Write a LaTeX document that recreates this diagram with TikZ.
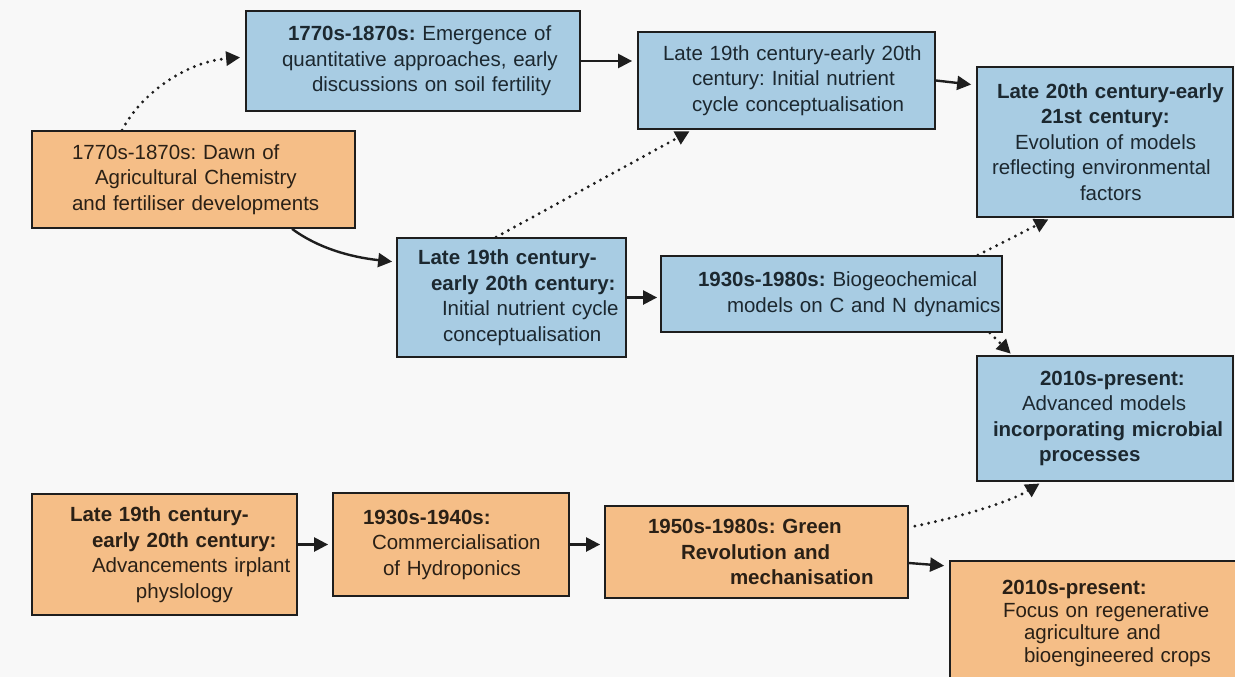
\documentclass[tikz,border=0pt]{standalone}
\usepackage{fontspec}
\setmainfont{Liberation Sans}
\usetikzlibrary{arrows.meta,calc}

\definecolor{bluefill}{HTML}{A8CCE3}
\definecolor{orangefill}{HTML}{F5BE87}
\definecolor{edgec}{HTML}{1E1E1E}
\definecolor{txtblue}{HTML}{1C2830}
\definecolor{txtorange}{HTML}{2A2016}
\definecolor{bgc}{HTML}{F8F8F8}

\begin{document}
\frenchspacing
\begin{tikzpicture}[x=1pt,y=1pt,
  box/.style={draw=edgec, line width=1.8pt, inner xsep=0pt, inner ysep=0pt,
    align=left, font=\fontsize{20.5}{25.5}\selectfont},
  bluebox/.style={box, fill=bluefill, text=txtblue},
  orangebox/.style={box, fill=orangefill, text=txtorange},
  link/.style={draw=edgec, line width=2.4pt, -{Triangle[length=14pt,width=14pt]}},
  dotlink/.style={link, line width=3.2pt, line cap=round, dash pattern=on 0pt off 7pt}]

\useasboundingbox (0,0) rectangle (1235,-677);
\clip (0,0) rectangle (1235,-677);
\fill[bgc] (0,0) rectangle (1235,-677);

% ---- blue boxes: modelling strand ----
\node[bluebox, minimum width=334pt, minimum height=100pt, text width=334pt] (b1) at (413,-61)
  {\hspace*{42pt}\textbf{1770s-1870s:} Emergence of\\
   \hspace*{36pt}quantitative approaches, early\\
   \hspace*{66pt}discussions on soil fertility};

\node[bluebox, minimum width=297pt, minimum height=97pt, text width=297pt] (b2) at (786.5,-80.5)
  {\hspace*{25pt}Late 19th century-early 20th\\
   \hspace*{54pt}century: Initial nutrient\\
   \hspace*{54pt}cycle conceptualisation};

\node[bluebox, minimum width=256pt, minimum height=150pt, text width=256pt] (b3) at (1105,-142)
  {\hspace*{20pt}\textbf{Late 20th century-early}\\
   \hspace*{64pt}\textbf{21st century:}\\
   \hspace*{38pt}Evolution of models\\
   \hspace*{15pt}reflecting environmental\\
   \hspace*{103pt}factors};

\node[bluebox, minimum width=229pt, minimum height=119pt, text width=229pt] (b4) at (511.5,-297.5)
  {\hspace*{21pt}\textbf{Late 19th century-}\\
   \hspace*{34pt}\textbf{early 20th century:}\\
   \hspace*{45pt}Initial nutrient cycle\\
   \hspace*{46pt}conceptualisation};

\node[bluebox, minimum width=341pt, minimum height=76pt, text width=341pt] (b5) at (831.5,-294)
  {\hspace*{37pt}\textbf{1930s-1980s:} Biogeochemical\\
   \hspace*{66pt}models on C and N dynamics};

\node[bluebox, minimum width=256pt, minimum height=125pt, text width=256pt] (b6) at (1105,-418.5)
  {\hspace*{63pt}\textbf{2010s-present:}\\
   \hspace*{45pt}Advanced models\\
   \hspace*{16pt}\textbf{incorporating microbial}\\
   \hspace*{62pt}\textbf{processes}};

% ---- orange boxes: agronomy strand ----
\node[orangebox, minimum width=323pt, minimum height=97pt, text width=323pt] (a) at (193.5,-179.5)
  {\hspace*{40pt}1770s-1870s: Dawn of\\
   \hspace*{63pt}Agricultural Chemistry\\
   \hspace*{40pt}and fertiliser developments};

\node[orangebox, minimum width=265pt, minimum height=121pt, text width=265pt] (o2) at (164.5,-554.5)
  {\hspace*{38pt}\textbf{Late 19th century-}\\
   \hspace*{60pt}\textbf{early 20th century:}\\
   \hspace*{60pt}Advancements irplant\\
   \hspace*{104pt}physlology};

\node[orangebox, minimum width=236pt, minimum height=103pt, text width=236pt] (o3) at (451,-544.5)
  {\hspace*{30pt}\textbf{1930s-1940s:}\\
   \hspace*{39pt}Commercialisation\\
   \hspace*{50pt}of Hydroponics};

\node[orangebox, minimum width=303pt, minimum height=92pt, text width=303pt] (o4) at (756.5,-552)
  {\hspace*{43pt}\textbf{1950s-1980s: Green}\\
   \hspace*{76pt}\textbf{Revolution and}\\
   \hspace*{125pt}\textbf{mechanisation}};

\node[orangebox, minimum width=306pt, minimum height=125pt, text width=306pt,
      font=\fontsize{20.5}{22.5}\selectfont] (o5) at (1103,-623.5)
  {\hspace*{52pt}\textbf{2010s-present:}\\
   \hspace*{53pt}Focus on regenerative\\
   \hspace*{74pt}agriculture and\\
   \hspace*{74pt}bioengineered crops};

% ---- solid connectors ----
\draw[link, shorten >=5pt] (b1.east) -- (b1.east -| b2.west);
\draw[link, shorten >=5pt] (b2.east) -- ($(b3.north west)+(0,-19)$);
\draw[link, shorten >=4pt] ($(a.south west)+(261,0)$)
  .. controls (318,-248) and (350,-257) .. ($(b4.north west)+(0,-25)$);
\draw[link, shorten >=3pt] (b4.east) -- (b4.east -| b5.west);
\draw[link, shorten >=4pt] (o2.east |- o3.west) -- (o3.west);
\draw[link, shorten >=4pt] (o3.east) -- (o3.east -| o4.west);
\draw[link, shorten >=5pt] ($(o4.east)+(0,-11)$) -- ($(o5.north west)+(0,-6)$);

% ---- dotted connectors ----
\draw[dotlink, shorten >=5pt] ($(a.north west)+(91,0)$)
  .. controls (140,-95) and (185,-62) .. ($(b1.west)+(0,4)$);
\draw[dotlink, shorten >=3pt] ($(b4.north west)+(100,0)$) -- ($(b2.south west)+(55,0)$);
\draw[dotlink, shorten >=3pt] ($(b5.north east)+(-25,0)$) -- ($(b3.south west)+(75,0)$);
\draw[dotlink, shorten >=2pt] ($(b5.south east)+(-13,0)$) -- ($(b6.north west)+(36,0)$);
\draw[dotlink, shorten >=3pt] ($(o4.north east)+(6,-21)$)
  .. controls (960,-517) and (1010,-502) .. ($(b6.south west)+(66,0)$);

\end{tikzpicture}
\end{document}
